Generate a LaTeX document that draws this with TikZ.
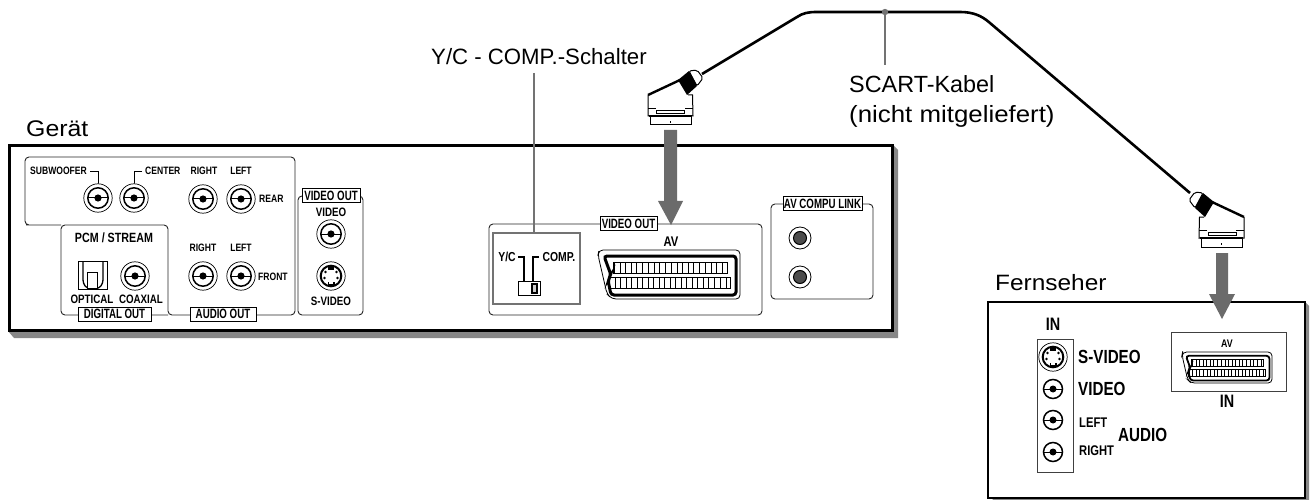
\documentclass[tikz,border=0pt]{standalone}
\usepackage{fontspec}
\setmainfont{Liberation Sans}
\newfontfamily\condfont[FakeStretch=0.8]{Liberation Sans}
\newfontfamily\tagfamily[FakeStretch=0.72]{Liberation Sans}
\newfontfamily\capfont[FakeStretch=1.1]{Liberation Sans}
\newcommand{\lbfont}[1]{\condfont\bfseries\fontsize{#1}{#1}\selectfont}
\newcommand{\tgfont}[1]{\tagfamily\bfseries\fontsize{#1}{#1}\selectfont}
\colorlet{shadowgray}{black!47}
\colorlet{arrowgray}{black!58}
\colorlet{leadgray}{black!55}
\tikzset{
  panel/.style={draw=black!85,line width=0.9pt,rounded corners=4pt},
  tag/.style={draw=black,fill=white,line width=0.8pt,inner sep=0pt,minimum height=14pt,text height=9.4pt,text depth=0pt,font=\tgfont{13.5}},
  lab/.style={inner sep=0pt,font=\lbfont{10.7}},
  midlab/.style={inner sep=0pt,font=\lbfont{12.2}},
  biglab/.style={inner sep=0pt,font=\lbfont{19},anchor=west},
  caption/.style={inner sep=0pt,font=\fontsize{22.2}{22.2}\selectfont,anchor=base west},
  widecaption/.style={inner sep=0pt,font=\capfont\fontsize{22.6}{22.6}\selectfont,anchor=base west},
  lead/.style={draw=leadgray,line width=1.7pt},
  bigarrow/.style={fill=arrowgray,draw=none},
}
% RCA jack: x, y, with outer ring
\newcommand{\rcajack}[2]{%
  \fill[white] (#1,#2) circle (14.5);
  \draw[line width=0.7pt] (#1,#2) circle (14.2);
  \draw[line width=1.5pt] (#1,#2) circle (10.2);
  \draw[line width=1pt] (#1-10,#2) -- (#1+10,#2);
  \fill (#1,#2) circle (3.6);}
% small jack without ring
\newcommand{\tvjack}[2]{%
  \draw[line width=1.5pt] (#1,#2) circle (9.5);
  \draw[line width=1pt] (#1-9,#2) -- (#1+9,#2);
  \fill (#1,#2) circle (3.5);}
% S-video socket
\newcommand{\svideo}[2]{%
  \draw[line width=0.7pt] (#1,#2) circle (14.2);
  \draw[line width=2pt,fill=white] (#1,#2) circle (10.3);
  \fill (#1-3,#2-10) rectangle (#1+3,#2-6.5);
  \fill (#1-3.5,#2+5.5) rectangle (#1+3.5,#2+10);
  \fill[white] (#1-2,#2+6) rectangle (#1+2,#2+8);
  \fill (#1-5.5,#2-4) circle (1.4) (#1+5.5,#2-4) circle (1.4) (#1-6.5,#2+2) circle (1.4) (#1+6.5,#2+2) circle (1.4);}
% SCART socket: x, y, scale, thick width, pin line width
\newcommand{\scartsocket}[5]{%
  \begin{scope}[shift={(#1,#2)},x=#3pt,y=-#3pt]
    \draw[line width=0.8pt,rounded corners=4pt,fill=white] (0,5) -- (1,0) -- (142,0) -- (142,49) -- (14,49) -- (9,44) -- cycle;
    \draw[line width=#4,rounded corners=3pt] (6,6) -- (138,6) -- (138,45) -- (13,45) -- (10,30) -- (13,25) -- cycle;
    \draw[line width=0.6pt] (15,12) rectangle (129,23);
    \draw[line width=0.6pt] (10,27) rectangle (132,38);
    \foreach \i in {0,...,9} {\draw[line width=#5] (16+11.4*\i,12) rectangle ++(6,11);}
    \foreach \i in {0,...,10} {\draw[line width=#5] (11+11.1*\i,27) rectangle ++(6,11);}
  \end{scope}}
% SCART plug: x, y, xscale
\newcommand{\scartplug}[3]{%
  \begin{scope}[shift={(#1,#2)},xscale=#3]
    \fill[white] (0,0) -- (32,-15) -- (45,0) -- (45,21) -- (0,21) -- cycle;
    \draw[line width=1pt] (40,0) -- (44.5,0) -- (45,21) -- (0,21) -- (0,0);
    \draw[line width=2.4pt] (0,0) -- (32,-15);
    \draw[line width=1pt,fill=white,rounded corners=2pt] (41,-24) -- (49,-25) -- (55,-17) -- (49,-9) -- cycle;
    \fill (30,-15) -- (41,-24) -- (49,-9) -- (39,0) -- cycle;
    \draw[line width=0.5pt] (0,13) -- (8,13) (37,13) -- (45,13);
    \draw[line width=0.5pt] (8,15) rectangle (36,18);
    \draw[line width=2.2pt] (1,21) -- (44,21);
    \draw[line width=1pt] (2,21) -- (2,30) -- (43,30) -- (43,21);
    \fill (22,26) rectangle (23,28);
  \end{scope}}
\begin{document}
\begin{tikzpicture}[x=1pt,y=-1pt]
\useasboundingbox (0,0) rectangle (1310,500);
% ===== device =====
\fill[shadowgray] (893,145) -- (898,150) -- (898,338) -- (14,338) -- (8,331) -- cycle;
\draw[line width=3pt,fill=white] (9.5,145.5) rectangle (892,330);
\node[widecaption] (geraet) at (26,137) {Gerät};
% audio/digital outline
\draw[panel] (61,225) -- (30,225) -- (25,225) -- (25,157) -- (295,157) -- (295,315) -- (168,315) -- (168,225) -- (61,225) -- (61,315) -- (168,315);
\node[tag,minimum width=73pt] (digitalout) at (114.5,314) {DIGITAL OUT};
\node[tag,minimum width=66pt] (audioout) at (223,314) {AUDIO OUT};
\draw[panel] (298,196) rectangle (363,315);
\node[tag,minimum width=58pt] (videoouta) at (331,195.5) {VIDEO OUT};
% jack labels
\node[lab,anchor=east] (sub) at (87,171) {SUBWOOFER};
\draw[line width=0.8pt] (90,171) -- (98,171) -- (98,184);
\draw[line width=0.8pt] (142,171) -- (134,171) -- (134,184);
\node[lab,anchor=west] (center) at (145,171) {CENTER};
\node[lab] (r1) at (204,171) {RIGHT};
\node[lab] (l1) at (241,171) {LEFT};
\node[lab,anchor=west] (rear) at (259,199) {REAR};
\node[lab] (r2) at (203,248) {RIGHT};
\node[lab] (l2) at (241,248) {LEFT};
\node[lab,anchor=west] (front) at (258,277) {FRONT};
\node[midlab,font=\lbfont{13.4}] (pcm) at (114,238) {PCM / STREAM};
\node[midlab] (optical) at (92,299) {OPTICAL};
\node[midlab] (coaxial) at (141,299) {COAXIAL};
\node[midlab] (vid1) at (331,212) {VIDEO};
\node[midlab] (sv1) at (331,301) {S-VIDEO};
\rcajack{98}{198}\rcajack{134}{198}\rcajack{203}{199}\rcajack{241}{199}
\rcajack{203}{276}\rcajack{241}{276}\rcajack{135}{276}\rcajack{331}{234}
\svideo{331}{276}
% optical
\draw[line width=0.6pt] (78,261) rectangle (107,289);
\draw[line width=1.3pt,rounded corners=3pt] (83,261) -- (83,283) -- (87,288.5) -- (99,288.5) -- (103,283) -- (103,261);
\draw[line width=0.7pt,fill=white] (87,272) rectangle (97,288);
% video out group
\draw[panel] (489,224) rectangle (762,315);
\node[tag,minimum width=57pt] (videooutb) at (628.5,223.5) {VIDEO OUT};
\draw[draw=black!55,line width=2pt,fill=white] (493,233) rectangle (580,304);
\node[midlab,font=\lbfont{13}] (yc) at (507,257) {Y/C};
\node[midlab,font=\lbfont{13}] (comp) at (559,257) {COMP.};
\draw[line width=1.3pt] (518,257) -- (524,257) -- (524,281);
\draw[line width=1.3pt] (539,257) -- (533,257) -- (533,281);
\draw[line width=0.7pt,fill=white] (518,281) rectangle (540,295);
\draw[line width=1.2pt,fill=black!20] (532,284) rectangle (537,293);
\node[midlab,font=\lbfont{14}] (av1) at (671,242) {AV};
\scartsocket{598}{250}{1}{3pt}{1pt}
% AV compu link
\draw[panel] (771,204) rectangle (873,299);
\node[tag,minimum width=79pt] (compu) at (822.5,203.5) {AV COMPU LINK};
\draw[line width=0.8pt] (800,238) circle (11);
\draw[line width=1pt,fill=black!70] (800,238) circle (6.5);
\draw[line width=0.8pt] (800,277) circle (11);
\draw[line width=1pt,fill=black!70] (800,277) circle (6.5);
% ===== TV =====
\fill[shadowgray] (1305,302) -- (1309,306) -- (1309,500) -- (992,500) -- cycle;
\draw[line width=2.5pt,fill=white] (988,302) rectangle (1305,498);
\node[widecaption,font=\capfont\fontsize{22.2}{22.2}\selectfont] (fernseher) at (995,290) {Fernseher};
\node[inner sep=0pt,font=\lbfont{18}] (in1) at (1053,324) {IN};
\draw[draw=black!75,line width=0.7pt] (1037,339) rectangle (1073,472);
\svideo{1053}{357}
\tvjack{1053}{389}\tvjack{1053}{420}\tvjack{1053}{452}
\node[biglab] (svt) at (1078,357) {S-VIDEO};
\node[biglab] (vidt) at (1078,389) {VIDEO};
\node[lab,anchor=west,font=\lbfont{14}] (left) at (1079,423) {LEFT};
\node[lab,anchor=west,font=\lbfont{14}] (right) at (1079,451) {RIGHT};
\node[biglab] (audio) at (1118,435) {AUDIO};
\draw[draw=black!75,line width=0.7pt] (1171,332) rectangle (1286,391);
\node[lab,font=\lbfont{11}] (av2) at (1227,344) {AV};
\scartsocket{1182}{352}{0.634}{1.8pt}{0.7pt}
\node[inner sep=0pt,font=\lbfont{18}] (in2) at (1227,401) {IN};
% ===== arrows =====
\fill[bigarrow] (664,130) -- (677,130) -- (677,201) -- (683,201) -- (671,225) -- (658,201) -- (664,201) -- cycle;
\fill[bigarrow] (1216,253) -- (1228,253) -- (1228,294) -- (1235,294) -- (1222,319) -- (1209,294) -- (1216,294) -- cycle;
% ===== cable =====
\coordinate (cordA) at (702,74);
\coordinate (cordB) at (1190,193);
\coordinate (tap) at (885,12);
\coordinate (tapend) at (885,65);
\draw[line width=2.6pt] (cordA) -- (797,17) .. controls (803,13) and (808,12) .. (817,12) -- (960,12) .. controls (972,12) and (981,15) .. (990,23) -- (cordB);
\scartplug{648}{95}{1}
\scartplug{1244}{217}{-1}
% ===== callouts =====
\node[caption] (schalter) at (431,65) {Y/C - COMP.-Schalter};
\coordinate (schalterend) at (534,233);
\coordinate (schaltertop) at (534,73);
\draw[lead] (schaltertop) -- (schalterend);
\node[caption,font=\fontsize{23.4}{23.4}\selectfont] (kabel) at (849,93) {SCART-Kabel};
\node[widecaption,font=\capfont\fontsize{23.5}{23.5}\selectfont] (nicht) at (849,123) {(nicht mitgeliefert)};
\fill[leadgray] (tap) circle (3.2);
\draw[lead] (tap) -- (tapend);
\end{tikzpicture}
\end{document}
